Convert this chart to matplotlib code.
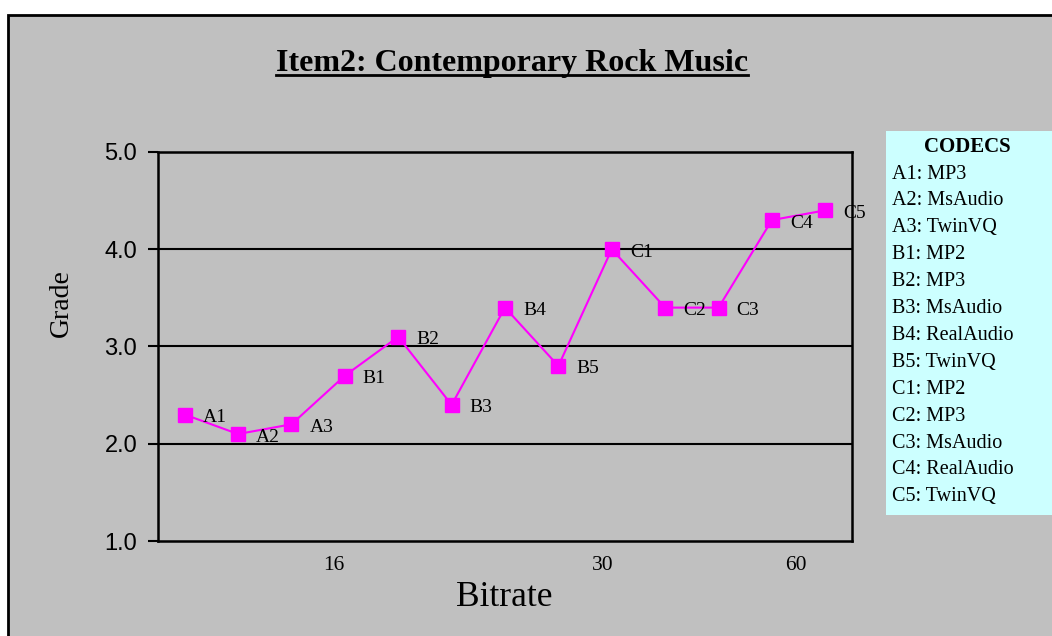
import matplotlib
matplotlib.use("Agg")
import matplotlib.pyplot as plt
from matplotlib.patches import Rectangle
from matplotlib.lines import Line2D

codes = ["A1", "A2", "A3", "B1", "B2", "B3", "B4", "B5", "C1", "C2", "C3", "C4", "C5"]
grades = [2.3, 2.1, 2.2, 2.7, 3.1, 2.4, 3.4, 2.8, 4.0, 3.4, 3.4, 4.3, 4.4]
codec_names = ["MP3", "MsAudio", "TwinVQ", "MP2", "MP3", "MsAudio", "RealAudio",
               "TwinVQ", "MP2", "MP3", "MsAudio", "RealAudio", "TwinVQ"]
bitrate_labels = ["16", "30", "60"]
bitrate_pos = [2.8, 7.83, 11.45]
yticks = [1.0, 2.0, 3.0, 4.0, 5.0]

W, H = 1052, 636
fig = plt.figure(figsize=(W / 100, H / 100), dpi=100)
fig.patch.set_facecolor("white")

# background frame (left & top edges visible)
fig.add_artist(Rectangle((8 / W, -0.1), 1.2, (H - 15) / H + 0.1, transform=fig.transFigure,
                         facecolor="#C0C0C0", edgecolor="black", linewidth=2, zorder=0))

serif = ["Liberation Serif", "DejaVu Serif"]
sans = ["Liberation Sans", "DejaVu Sans"]

# axes
x0, x1, ytop, ybot = 158, 852, 152, 541
ax = fig.add_axes([x0 / W, 1 - ybot / H, (x1 - x0) / W, (ybot - ytop) / H])
ax.set_facecolor("#C0C0C0")
ax.set_xlim(-0.5, len(codes) - 0.5)
ax.set_ylim(1.0, 5.0)
for s in ax.spines.values():
    s.set_linewidth(1.8)
    s.set_color("black")
ax.set_yticks(yticks)
ax.set_yticklabels([f"{v:.1f}" for v in yticks], fontfamily=sans, fontsize=17)
ax.tick_params(axis="y", length=7, width=1.5, pad=8)
ax.set_xticks(bitrate_pos)
ax.set_xticklabels(bitrate_labels, fontfamily=serif, fontsize=15.5)
ax.tick_params(axis="x", length=0, pad=11)
for g in [2.0, 3.0, 4.0]:
    ax.axhline(g, color="black", linewidth=1.5, zorder=1)

xs = list(range(len(codes)))
ax.plot(xs, grades, color="#FF00FF", linewidth=1.5, marker="s", markersize=10,
        markerfacecolor="#FF00FF", markeredgecolor="#FF00FF", zorder=3, clip_on=False)
for x, y, c in zip(xs, grades, codes):
    ax.annotate(c, (x, y), xytext=(18, -3), textcoords="offset pixels",
                ha="left", va="center", fontfamily=serif, fontsize=14, zorder=4)

fig.text(504 / W, 1 - 598 / H, "Bitrate", ha="center", va="center",
         fontfamily=serif, fontsize=25.5)
fig.text(61 / W, 1 - 303 / H, "Grade", ha="center", va="center", rotation=90,
         fontfamily=serif, fontsize=20)

# title with underline
t = fig.text(512 / W, 1 - 63 / H, "Item2: Contemporary Rock Music", ha="center", va="center",
             fontfamily=serif, fontweight="bold", fontsize=23)
fig.canvas.draw()
bb = t.get_window_extent()
uy = 1 - 75 / H
fig.add_artist(Line2D([bb.x0 / W, bb.x1 / W], [uy, uy], transform=fig.transFigure,
                      color="black", linewidth=2))

# legend box
lx0, ly0, ly1 = 886, 131, 515
fig.add_artist(Rectangle((lx0 / W, 1 - ly1 / H), (W - lx0) / W + 0.01, (ly1 - ly0) / H,
                         transform=fig.transFigure, facecolor="#CCFFFF", edgecolor="none"))
fig.text(967 / W, 1 - 147 / H, "CODECS", ha="center", va="center", fontfamily=serif,
         fontweight="bold", fontsize=15)
for i, (c, n) in enumerate(zip(codes, codec_names)):
    fig.text(892 / W, 1 - (174 + i * 26.9) / H, f"{c}: {n}", ha="left", va="center",
             fontfamily=serif, fontsize=14.5)

fig.savefig("out.png", dpi=100)
